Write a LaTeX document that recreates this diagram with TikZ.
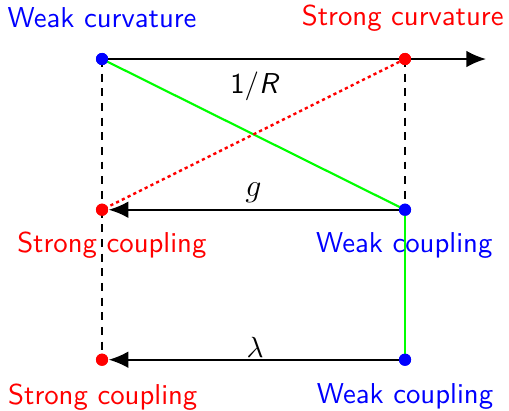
\documentclass[tikz,border=0pt]{standalone}
\usetikzlibrary{arrows.meta}
\begin{document}
\begin{tikzpicture}[x=1cm,y=1cm,
  every node/.style={font=\fontsize{10.8}{13}\selectfont\sffamily},
  dot/.style={circle,inner sep=0pt,minimum size=0.16cm,fill=#1},
  axis/.style={line width=0.8pt,-{Latex[length=2.6mm,width=2.2mm]}},
  guide/.style={line width=0.7pt,dashed,dash pattern=on 3pt off 2.5pt},
  link/.style={line width=0.8pt,green},
  dual/.style={line width=0.9pt,red,dash pattern=on 1.2pt off 1.2pt},
  lab/.style={inner sep=1pt}]
\useasboundingbox (-1.347,0.779) rectangle (5.373,-4.647);
% dots
\node[dot=blue] (A) at (0,0) {};
\node[dot=red] (B) at (4,0) {};
\node[dot=red] (C) at (0,-1.99) {};
\node[dot=blue] (D) at (4,-1.99) {};
\node[dot=red] (E) at (0,-3.97) {};
\node[dot=blue] (F) at (4,-3.97) {};
\coordinate (T) at (5.07,0);
% lines
\draw[guide] (A.center) -- (C.center);
\draw[guide] (C.center) -- (E.center);
\draw[guide] (B.center) -- (D.center);
\draw[link] (A.center) -- (D.center);
\draw[link] (D.center) -- (F.center);
\draw[dual] (B.center) -- (C.center);
\draw[axis] (A.center) -- (T);
\draw[axis] (D.center) -- (C);
\draw[axis] (F.center) -- (E);
% redraw dots on top
\node[dot=blue] at (A) {};
\node[dot=red] at (B) {};
\node[dot=red] at (C) {};
\node[dot=blue] at (D) {};
\node[dot=red] at (E) {};
\node[dot=blue] at (F) {};
% labels
\node[lab] (lR) at (2.02,-0.36) {\textsf{1/\textit{R}}};
\node[lab] (lg) at (2.0,-1.77) {\fontsize{12}{14}\selectfont$g$};
\node[lab] (ll) at (2.02,-3.81) {$\lambda$};
\node[text=blue] (t1) at (0,0.54) {Weak curvature};
\node[text=red] (t2) at (3.97,0.54) {Strong curvature};
\node[text=red] (t3) at (0.13,-2.46) {Strong coupling};
\node[text=blue] (t4) at (3.99,-2.46) {Weak coupling};
\node[text=red] (t5) at (0.01,-4.46) {Strong coupling};
\node[text=blue] (t6) at (4.0,-4.46) {Weak coupling};
\end{tikzpicture}
\end{document}
